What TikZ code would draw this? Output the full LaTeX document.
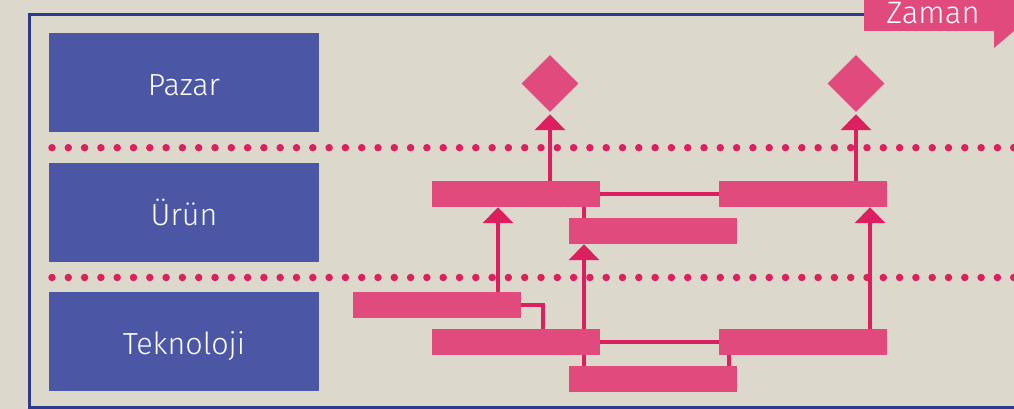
\documentclass[tikz,border=0pt]{standalone}
\usepackage{fontspec}
\setmainfont{Fira Sans Light}
\usetikzlibrary{arrows.meta,shapes.geometric}
\definecolor{bg}{HTML}{DCD8CC}
\definecolor{boxblue}{HTML}{4B56A5}
\definecolor{frameblue}{HTML}{2B3A8F}
\definecolor{barpink}{HTML}{E04A7C}
\definecolor{linkpink}{HTML}{DC1F5F}
\tikzset{
  rowbox/.style={fill=boxblue, draw=none, minimum width=270pt, minimum height=99pt, inner sep=0pt, text=white, font=\fontsize{30.5}{34}\selectfont, text height=26pt, text depth=0pt},
  bar/.style={fill=barpink, draw=none, minimum width=168pt, minimum height=26pt, inner sep=0pt},
  goal/.style={diamond, fill=barpink, draw=none, minimum width=57pt, minimum height=57pt, inner sep=0pt},
  link/.style={draw=linkpink, line width=4.5pt},
  uplink/.style={link, -{Triangle[width=30pt,length=16pt]}},
  dots/.style={draw=linkpink, line width=7.5pt, line cap=round, dash pattern=on 0pt off 16.3pt},
}
\begin{document}
\begin{tikzpicture}[x=1pt,y=-1pt]
\fill[bg] (0,0) rectangle (1014,409);
\useasboundingbox (0,0) rectangle (1014,409);
% frame
\draw[frameblue, line width=3pt] (864,14.5) -- (29.5,14.5) -- (29.5,407) -- (1014,407);
% Zaman tab
\fill[barpink] (864,0) -- (1014,0) -- (1014,31) -- (994,48) -- (994,31) -- (864,31) -- cycle;
\node[anchor=base, text=white, font=\fontsize{31}{34}\selectfont, inner sep=0pt] (zaman) at (933,24) {Zaman};
% row boxes
\node[rowbox] (pazar) at (184,82.5) {Pazar};
\node[rowbox] (urun) at (184,212.5) {Ürün};
\node[rowbox] (tek) at (184,341.5) {Teknoloji};
% dotted separators
\draw[dots] (52,147.7) -- (1014,147.7);
\draw[dots] (52,277.5) -- (1014,277.5);
% bars
\node[bar] (A) at (516,194) {};
\node[bar] (B) at (803,194) {};
\node[bar] (C) at (653,231) {};
\node[bar] (D) at (437,305) {};
\node[bar] (E) at (516,342) {};
\node[bar] (F) at (803,342) {};
\node[bar] (G) at (653,379) {};
% goals
\node[goal] (g1) at (550,83.5) {};
\node[goal] (g2) at (856,83.5) {};
% x positions
\coordinate (x498) at (498,0);
\coordinate (x543) at (543,0);
\coordinate (x584) at (584,0);
\coordinate (x729) at (729,0);
\coordinate (x870) at (870,0);
% connectors
\draw[link] (A.east) -- (B.west);
\draw[link] (E.east) -- (F.west);
\draw[link] (A.south -| x584) -- (C.north -| x584);
\draw[link] (E.south -| x584) -- (G.north -| x584);
\draw[link] (F.south -| x729) -- (G.north -| x729);
\draw[link] (D.east) -| (E.north -| x543);
\draw[uplink] (D.north -| x498) -- (A.south -| x498);
\draw[uplink] (E.north -| x584) -- (C.south -| x584);
\draw[uplink] (F.north -| x870) -- (B.south -| x870);
\draw[uplink, shorten >=2pt] (A.north -| g1) -- (g1.south);
\draw[uplink, shorten >=2pt] (B.north -| g2) -- (g2.south);
\end{tikzpicture}
\end{document}
